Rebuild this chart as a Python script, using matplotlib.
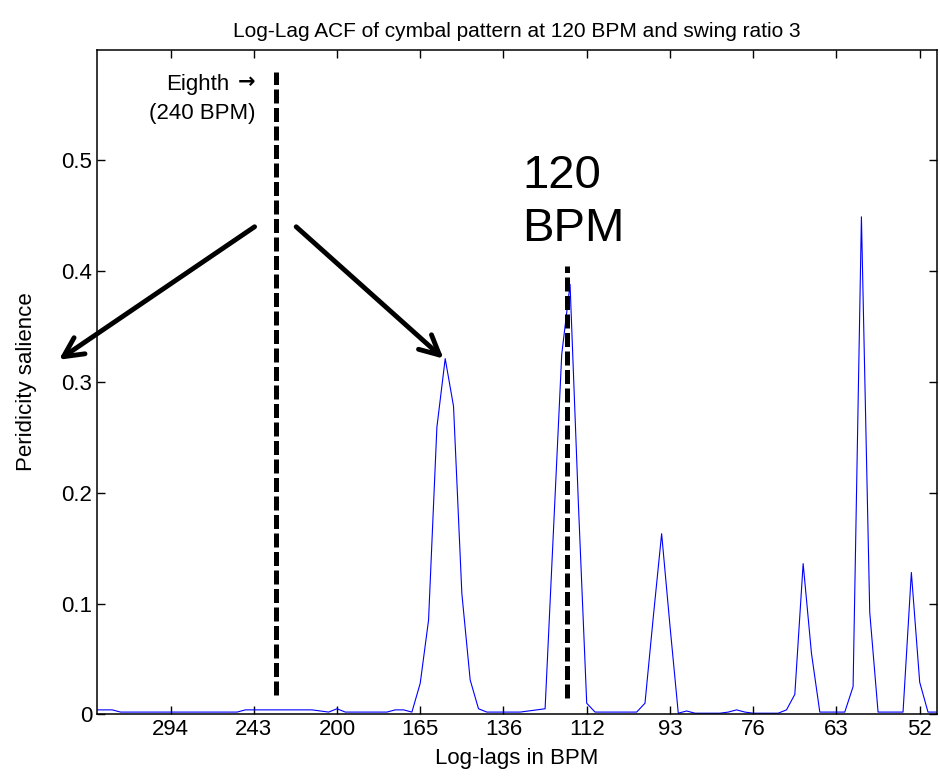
import matplotlib
matplotlib.use("Agg")
import matplotlib.pyplot as plt
import numpy as np

# log-lag samples (36 per octave), tick every 10 samples
lag_index = np.arange(1, 103)
salience = [
    0.004, 0.004, 0.004, 0.002, 0.002, 0.002, 0.002, 0.002, 0.002, 0.002,
    0.002, 0.002, 0.002, 0.002, 0.002, 0.002, 0.002, 0.002, 0.004, 0.004,
    0.004, 0.004, 0.004, 0.004, 0.004, 0.004, 0.004, 0.003, 0.002, 0.005,
    0.002, 0.002, 0.002, 0.002, 0.002, 0.002, 0.004, 0.004, 0.002, 0.028,
    0.085, 0.259, 0.321, 0.278, 0.109, 0.031, 0.005, 0.002, 0.002, 0.002,
    0.002, 0.002, 0.003, 0.004, 0.005, 0.165, 0.325, 0.388, 0.190, 0.010,
    0.002, 0.002, 0.002, 0.002, 0.002, 0.002, 0.010, 0.088, 0.163, 0.080,
    0.001, 0.003, 0.001, 0.001, 0.001, 0.001, 0.002, 0.004, 0.002, 0.001,
    0.001, 0.001, 0.001, 0.004, 0.018, 0.136, 0.055, 0.002, 0.002, 0.002,
    0.002, 0.025, 0.449, 0.092, 0.002, 0.002, 0.002, 0.002, 0.128, 0.029,
    0.002, 0.002,
]
tick_index = [10, 20, 30, 40, 50, 60, 70, 80, 90, 100]
tick_bpm = ["294", "243", "200", "165", "136", "112", "93", "76", "63", "52"]
y_ticks = [0, 0.1, 0.2, 0.3, 0.4, 0.5]
y_tick_labels = ["0", "0.1", "0.2", "0.3", "0.4", "0.5"]

eighth_pos = 22.7
quarter_pos = 57.6

plt.rcParams['font.family'] = ['Liberation Sans', 'DejaVu Sans']

fig = plt.figure(figsize=(9.4, 7.84), dpi=100)
ax = fig.add_axes([97 / 940, 69.7 / 784, 840 / 940, 664.8 / 784])

ax.plot(lag_index, salience, color='blue', lw=0.8)

# dashed markers
ax.plot([eighth_pos, eighth_pos], [0.017, 0.58], color='black', lw=3.6,
        dashes=(2.8, 0.9))
ax.plot([quarter_pos, quarter_pos], [0.015, 0.405], color='black', lw=3.6,
        dashes=(2.8, 0.9))

ax.text(17.1, 0.563, "Eighth", fontsize=16, ha='right', va='baseline')
ax.text(20.2, 0.565, "\u2192", fontsize=15, ha='right', va='baseline',
        family='DejaVu Sans', fontweight='bold')
ax.text(20.2, 0.5377, "(240 BPM)", fontsize=16, ha='right', va='baseline')
ax.text(52.3, 0.475, "120", fontsize=34, ha='left', va='baseline')
ax.text(52.3, 0.427, "BPM", fontsize=34, ha='left', va='baseline')

arrow = dict(arrowstyle='->, head_length=1.4, head_width=0.7', lw=3.5,
             color='black', shrinkA=0, shrinkB=0)
ax.annotate('', xy=(-3.4, 0.32), xytext=(20.1, 0.44), arrowprops=arrow,
            annotation_clip=False)
ax.annotate('', xy=(42.8, 0.321), xytext=(25.1, 0.44), arrowprops=arrow,
            annotation_clip=False)

ax.set_xlim(1.17, 102.08)
ax.set_ylim(0, 0.6)
ax.set_xticks(tick_index)
ax.set_xticklabels(tick_bpm)
ax.set_yticks(y_ticks)
ax.set_yticklabels(y_tick_labels)
ax.tick_params(direction='in', length=6, width=1, top=True, right=True,
               labelsize=16)
for s in ax.spines.values():
    s.set_linewidth(1.1)

ax.set_title("Log-Lag ACF of cymbal pattern at 120 BPM and swing ratio 3",
             fontsize=15, pad=9)
ax.set_xlabel("Log-lags in BPM", fontsize=16, labelpad=6)
ax.set_ylabel("Peridicity salience", fontsize=16)
ax.yaxis.set_label_coords(-0.072, 0.5)

fig.savefig("out.png", dpi=100)
